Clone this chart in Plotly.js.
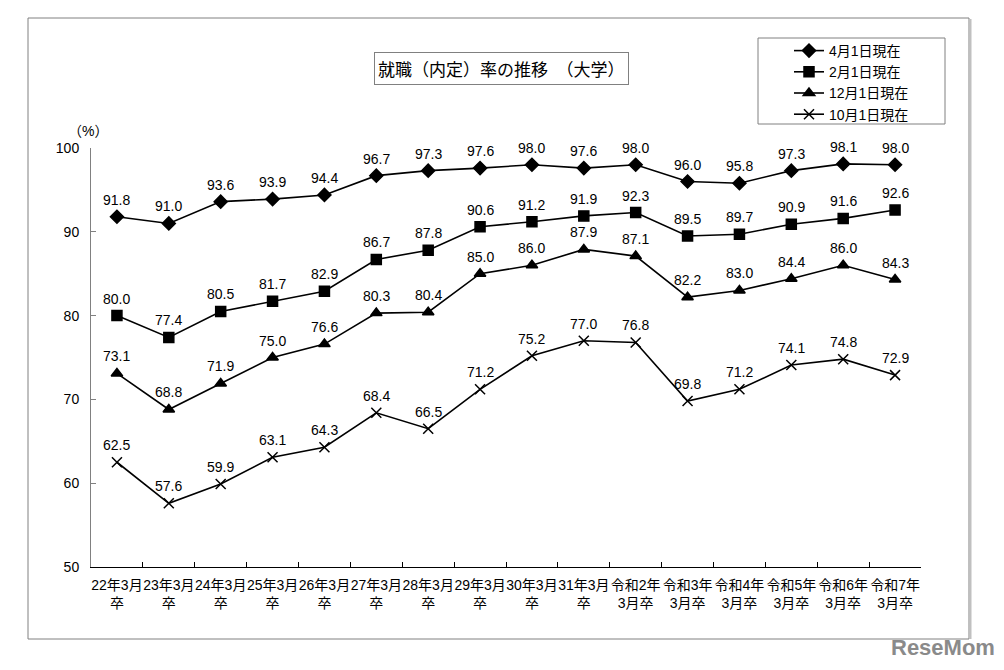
<!DOCTYPE html>
<html>
<head>
<meta charset="utf-8">
<script src="https://cdn.plot.ly/plotly-3.0.1.min.js"></script>
<style>
html,body{margin:0;padding:0;background:#fff;}
#chart{width:1004px;height:670px;}
</style>
</head>
<body>
<div id="chart"></div>
<script>
var categories = [
  "22年3月<br>卒","23年3月<br>卒","24年3月<br>卒","25年3月<br>卒","26年3月<br>卒",
  "27年3月<br>卒","28年3月<br>卒","29年3月<br>卒","30年3月<br>卒","31年3月<br>卒",
  "令和2年<br>3月卒","令和3年<br>3月卒","令和4年<br>3月卒","令和5年<br>3月卒","令和6年<br>3月卒","令和7年<br>3月卒"
];
var seriesNames = ["4月1日現在","2月1日現在","12月1日現在","10月1日現在"];
var apr1 = [91.8,91.0,93.6,93.9,94.4,96.7,97.3,97.6,98.0,97.6,98.0,96.0,95.8,97.3,98.1,98.0];
var feb1 = [80.0,77.4,80.5,81.7,82.9,86.7,87.8,90.6,91.2,91.9,92.3,89.5,89.7,90.9,91.6,92.6];
var dec1 = [73.1,68.8,71.9,75.0,76.6,80.3,80.4,85.0,86.0,87.9,87.1,82.2,83.0,84.4,86.0,84.3];
var oct1 = [62.5,57.6,59.9,63.1,64.3,68.4,66.5,71.2,75.2,77.0,76.8,69.8,71.2,74.1,74.8,72.9];
var yTicks = [50,60,70,80,90,100];

var FONT = "Liberation Sans, Arial, 'Noto Sans CJK JP', sans-serif";
var symbols = ["diamond","square","triangle-up","x-thin"];
var data = [apr1,feb1,dec1,oct1];

var traces = data.map(function(vals,i){
  return {
    type:"scatter",
    mode:"lines+markers",
    name:seriesNames[i],
    x:categories,
    y:vals,
    line:{color:"#000",width:1.6},
    marker:{symbol:symbols[i],size:10,color:"#000",line:{color:"#000",width:1.5}},
    cliponaxis:false,
    hoverinfo:"skip"
  };
});

function px2x(p){return (p-91)/830;}
function px2y(p){return (567-p)/419;}

var annotations = [];
data.forEach(function(vals){
  vals.forEach(function(v,j){
    annotations.push({xref:"x",yref:"y",x:categories[j],y:v,text:v.toFixed(1),
      showarrow:false,yshift:17,xanchor:"center",yanchor:"middle",
      font:{family:FONT,size:14,color:"#000"}});
  });
});
annotations.push(
  {xref:"paper",yref:"paper",x:px2x(501),y:px2y(69),
   text:"就職（内定）率の推移　（大学）",showarrow:false,
   font:{family:"'Noto Sans CJK JP', sans-serif",size:17,color:"#000"},
   bordercolor:"#808080",borderwidth:1,borderpad:3,bgcolor:"#fff",
   xanchor:"center",yanchor:"middle"},
  {xref:"paper",yref:"paper",x:px2x(88),y:px2y(131),
   text:"（%）",showarrow:false,
   font:{family:FONT,size:14,color:"#000"},xanchor:"center",yanchor:"middle"},
  {xref:"paper",yref:"paper",x:px2x(943),y:px2y(647),
   text:"<b>ReseMom</b>",showarrow:false,
   font:{family:"'Liberation Sans', Arial, sans-serif",size:22,color:"#8a8a8a"},xanchor:"center",yanchor:"middle"}
);

var layout = {
  width:1004,height:670,
  margin:{l:91,r:83,t:148,b:103,pad:0},
  paper_bgcolor:"#fff",plot_bgcolor:"#fff",
  font:{family:FONT,size:13,color:"#000"},
  showlegend:true,
  legend:{
    x:px2x(789), y:px2y(35), xanchor:"left", yanchor:"top",
    borderwidth:0, bgcolor:"rgba(0,0,0,0)",
    font:{family:FONT,size:14,color:"#000"},
    tracegroupgap:0, itemwidth:30
  },
  xaxis:{
    type:"category",
    range:[-0.5,15.5],
    showline:true, linecolor:"#000", linewidth:1,
    ticks:"inside", tickson:"boundaries", ticklen:5, tickcolor:"#000",
    showgrid:false, zeroline:false,
    tickangle:0,
    tickfont:{family:FONT,size:14,color:"#000"},
    ticklabelstandoff:5
  },
  yaxis:{
    range:[50,100],
    tickvals:yTicks,
    ticktext:yTicks.map(String),
    showline:true, linecolor:"#808080", linewidth:1,
    ticks:"inside", ticklen:5, tickcolor:"#808080",
    showgrid:false, zeroline:false,
    tickfont:{family:FONT,size:14,color:"#000"},
    ticklabelstandoff:8
  },
  annotations:annotations,
  shapes:[
    {type:"rect",xref:"paper",yref:"paper",
     x0:px2x(28),x1:px2x(969),y0:px2y(639),y1:px2y(18),
     line:{color:"#808080",width:1},fillcolor:"rgba(0,0,0,0)",layer:"below"},
    {type:"line",xref:"paper",yref:"paper",
     x0:px2x(970.5),x1:px2x(970.5),y0:px2y(639),y1:px2y(19),
     line:{color:"#c0c0c0",width:2}},
    {type:"rect",xref:"paper",yref:"paper",
     x0:px2x(758),x1:px2x(945),y0:px2y(124),y1:px2y(38),
     line:{color:"#808080",width:1},fillcolor:"rgba(0,0,0,0)",layer:"above"}
  ]
};

Plotly.newPlot("chart",traces,layout,{staticPlot:true,displayModeBar:false});
</script>
</body>
</html>
